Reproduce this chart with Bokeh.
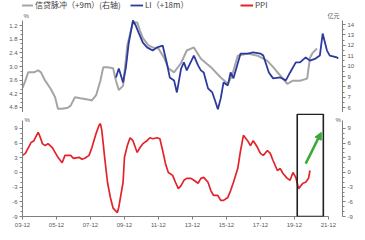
import pandas as pd
from bokeh.plotting import figure
from bokeh.layouts import column
from bokeh.models import (Range1d, LinearAxis, FixedTicker, PrintfTickFormatter,
                          DatetimeTickFormatter, Legend, LegendItem, Label,
                          BoxAnnotation, Arrow, NormalHead)
from bokeh.embed import file_html
from bokeh.resources import INLINE

# ---------------- data ----------------
gray_dates = ["2003-12","2004-02","2004-04","2004-08","2004-11","2005-01","2005-04","2005-08",
              "2005-11","2006-01","2006-04","2006-08","2006-10","2007-01","2007-05","2007-10",
              "2008-01","2008-04","2008-07","2008-09","2008-12","2009-04","2009-06","2009-08",
              "2009-11","2010-02","2010-04","2010-06","2010-09","2010-11","2011-01","2011-05",
              "2011-08","2011-12","2012-04","2012-07","2012-11","2013-04","2013-08","2014-01",
              "2014-06","2015-01","2015-08","2016-01","2016-04","2016-08","2017-03","2017-10",
              "2018-05","2018-09","2019-02","2019-07","2019-11","2020-04","2020-09","2020-11",
              "2021-01","2021-04"]
gray_vals = [7.9, 8.6, 9.4, 9.4, 9.6, 9.4, 8.6, 7.8, 7.0, 5.9, 5.9, 6.0, 6.2, 7.0, 6.9, 6.8,
             6.7, 7.2, 8.6, 9.9, 9.9, 9.8, 8.6, 7.7, 8.1, 12.0, 13.1, 14.2, 14.2, 13.4, 12.7, 12.0,
             11.8, 11.7, 10.8, 9.8, 9.4, 10.3, 11.5, 11.8, 10.7, 9.9, 8.9, 8.3, 9.1, 11.0, 11.2, 11.0,
             10.5, 9.9, 9.1, 8.3, 8.6, 8.6, 8.8, 10.8, 11.3, 11.7]

li_dates = ["2009-06","2009-08","2009-11","2010-01","2010-03","2010-06","2010-08","2010-10",
            "2011-01","2011-04","2011-08","2011-11","2012-03","2012-06","2012-08","2012-11",
            "2013-01","2013-04","2013-06","2013-08","2014-01","2014-04","2014-06","2014-08",
            "2014-11","2015-02","2015-04","2015-06","2015-08","2015-10","2016-01","2016-03",
            "2016-05","2016-10","2017-03","2017-07","2017-12","2018-02","2018-06","2018-09",
            "2019-02","2019-06","2019-09","2020-01","2020-04","2020-08","2020-11","2021-03",
            "2021-06","2021-08","2021-11","2022-01","2022-06","2022-07"]
li_vals = [3.48, 3.09, 3.70, 3.04, 1.99, 0.98, 1.20, 1.51, 1.95, 2.16, 2.30, 2.16, 2.08, 2.87,
           3.48, 3.61, 4.14, 3.09, 2.82, 3.17, 2.52, 2.95, 3.17, 3.26, 3.96, 4.14, 4.49, 4.88,
           4.40, 3.70, 3.83, 3.26, 3.52, 2.43, 2.43, 2.38, 2.43, 2.52, 3.26, 3.52, 3.48, 3.61,
           3.26, 2.82, 2.82, 2.60, 2.74, 2.65, 2.52, 1.55, 2.30, 2.52, 2.60, 2.65]

ppi_dates = ["2003-12","2004-02","2004-06","2004-08","2004-11","2004-12","2005-02","2005-04",
             "2005-06","2005-09","2005-11","2006-01","2006-04","2006-06","2006-10","2006-12",
             "2007-04","2007-06","2007-08","2007-11","2008-01","2008-04","2008-06","2008-07",
             "2008-08","2008-10","2008-12","2009-02","2009-04","2009-07","2009-08","2009-11",
             "2009-12","2010-02","2010-04","2010-06","2010-08","2010-09","2010-11","2011-01",
             "2011-04","2011-06","2011-08","2011-11","2012-01","2012-03","2012-05","2012-07",
             "2012-10","2012-12","2013-02","2013-04","2013-06","2013-08","2013-11","2014-01",
             "2014-04","2014-06","2014-08","2014-11","2015-01","2015-03","2015-06","2015-08",
             "2015-10","2016-01","2016-03","2016-05","2016-08","2016-10","2016-12","2017-03",
             "2017-05","2017-07","2017-10","2017-12","2018-02","2018-05","2018-07","2018-09",
             "2018-12","2019-02","2019-04","2019-07","2019-09","2019-11","2020-01","2020-03",
             "2020-06","2020-08","2020-10","2020-11"]
ppi_vals = [3.5, 3.9, 6.1, 6.5, 8.2, 7.6, 5.9, 5.5, 5.9, 5.1, 4.1, 3.1, 2.0, 3.5, 3.5, 2.9,
            3.1, 2.7, 2.9, 3.5, 5.1, 8.0, 9.6, 10.0, 8.6, 3.1, -2.0, -5.1, -7.3, -8.2, -7.1, -2.0,
            3.1, 5.5, 7.1, 6.5, 4.9, 4.1, 5.1, 5.9, 6.5, 7.1, 6.9, 7.1, 6.9, 4.5, 1.8, 0.0,
            -0.6, -2.0, -3.3, -2.7, -1.6, -1.2, -1.2, -1.6, -2.2, -1.2, -1.0, -2.0, -3.7, -4.7,
            -4.7, -5.7, -5.7, -5.1, -3.7, -2.0, 0.8, 4.5, 7.6, 6.5, 5.5, 6.5, 5.1, 3.9, 3.5, 4.5,
            3.9, 2.4, 0.4, 0.8, -0.2, -1.2, -1.6, 0.0, -1.0, -3.3, -2.2, -2.0, -1.2, 0.4]

x_ticks = ["2003-12", "2005-12", "2007-12", "2009-12", "2011-12", "2013-12", "2015-12",
           "2017-12", "2019-12", "2021-12"]
li_ticks = [1.2, 1.8, 2.4, 3.0, 3.6, 4.2, 4.8]
credit_ticks = [6, 7, 8, 9, 10, 11, 12, 13, 14]
ppi_ticks = [-9, -6, -3, 0, 3, 6, 9]

highlight_start, highlight_end = "2020-02", "2021-08-15"
highlight_top = 11.9
arrow_from = ("2020-08", 1.8)
arrow_to = ("2021-07", 8.2)

legend_labels = ["信贷脉冲（+9m）(右轴)", "LI（+18m）", "PPI"]

GRAY = "#a5a5a5"
BLUE = "#2c3a9e"
RED = "#e3232a"
GREEN = "#3aa935"
AXIS = "#7f7f7f"
TXT = "#595959"


def ts(s):
    return pd.Timestamp(s)


def ms(s):
    return pd.Timestamp(s).value / 1e6


x_start = ts("2003-12-01")
x_end = x_start + pd.DateOffset(months=226)
xr = Range1d(x_start, x_end)


def style_axis(ax, size="6px"):
    ax.axis_line_color = AXIS
    ax.major_tick_line_color = AXIS
    ax.minor_tick_line_color = AXIS
    ax.major_tick_in = 0
    ax.major_tick_out = 3
    ax.minor_tick_in = 0
    ax.minor_tick_out = 2
    ax.major_label_text_font_size = size
    ax.major_label_text_color = TXT
    ax.major_label_text_font = "Liberation Sans"
    ax.major_label_standoff = 2


def minor(ticks, step):
    lo, hi = min(ticks), max(ticks)
    out = []
    v = lo
    while v <= hi + 1e-9:
        if all(abs(v - t) > 1e-6 for t in ticks):
            out.append(round(v, 3))
        v += step
    return out


# ---------------- top panel ----------------
top = figure(width=365, height=112, x_axis_type="datetime", x_range=xr,
             y_range=Range1d(5.02, 0.10), output_backend="svg", toolbar_location=None,
             x_axis_location=None, min_border_left=22, min_border_right=23,
             min_border_top=0, min_border_bottom=0)
top.extra_y_ranges = {"right": Range1d(5.54, 16.31)}
top.grid.visible = False
top.outline_line_color = None

g = top.line([ts(d) for d in gray_dates], gray_vals, color=GRAY, line_width=2,
             y_range_name="right")
b = top.line([ts(d) for d in li_dates], li_vals, color=BLUE, line_width=1.8)
r_dummy = top.line([x_start], [float("nan")], color=RED, line_width=2)

la = top.yaxis[0]
la.ticker = FixedTicker(ticks=li_ticks, minor_ticks=minor(li_ticks, 0.2))
la.formatter = PrintfTickFormatter(format="%.1f")
style_axis(la)
la.bounds = (0.98, 5.02)

ra = LinearAxis(y_range_name="right")
ra.ticker = FixedTicker(ticks=credit_ticks, minor_ticks=minor(credit_ticks, 0.5))
ra.formatter = PrintfTickFormatter(format="%d")
style_axis(ra)
ra.bounds = (5.54, 14.38)
top.add_layout(ra, "right")

legend = Legend(items=[LegendItem(label=legend_labels[0], renderers=[g]),
                       LegendItem(label=legend_labels[1], renderers=[b]),
                       LegendItem(label=legend_labels[2], renderers=[r_dummy])],
                orientation="horizontal", location=(-2, 102), label_width=95,
                spacing=0, glyph_width=13, glyph_height=8, label_height=8, padding=0,
                margin=0, label_standoff=2, label_text_font_size="8px",
                label_text_font="Noto Sans CJK SC", label_text_color="#404040",
                border_line_color=None, background_fill_alpha=0)
top.add_layout(legend)

top.add_layout(Label(x=1, y=97, x_units="screen", y_units="screen", text="%",
                     text_font_size="6px", text_color=TXT, text_baseline="middle"))
top.add_layout(Label(x=305, y=97, x_units="screen", y_units="screen", text="亿元",
                     text_font_size="6px", text_color=TXT, text_baseline="middle",
                     text_font="Noto Sans CJK SC"))

# ---------------- bottom panel ----------------
bot = figure(width=365, height=128, x_axis_type="datetime", x_range=xr,
             y_range=Range1d(-9, 12.06), output_backend="svg", toolbar_location=None,
             min_border_left=22, min_border_right=23, min_border_top=1,
             min_border_bottom=24)
bot.grid.visible = False
bot.outline_line_color = None

bot.line([ts(d) for d in ppi_dates], ppi_vals, color=RED, line_width=1.7)

xa = bot.xaxis[0]
xa.ticker = FixedTicker(ticks=[ms(t) for t in x_ticks], minor_ticks=[])
xa.formatter = DatetimeTickFormatter(days="%y-%m", months="%y-%m", years="%y-%m")
style_axis(xa)
xa.bounds = (ms(x_ticks[0]), ms(x_ticks[-1]))
xa.major_label_standoff = 3

bl = bot.yaxis[0]
bl.ticker = FixedTicker(ticks=ppi_ticks, minor_ticks=minor(ppi_ticks, 1))
bl.formatter = PrintfTickFormatter(format="%d")
style_axis(bl)
bl.bounds = (-9, 10.6)

br = LinearAxis()
br.ticker = FixedTicker(ticks=ppi_ticks, minor_ticks=minor(ppi_ticks, 1))
br.formatter = PrintfTickFormatter(format="%d")
style_axis(br)
br.bounds = (-9, 10.6)
bot.add_layout(br, "right")

bot.add_layout(BoxAnnotation(left=ms(highlight_start), right=ms(highlight_end), bottom=-9,
                             top=highlight_top, fill_alpha=0, line_color="#1f1f1f",
                             line_alpha=1.0, line_width=1.6))
bot.add_layout(Arrow(end=NormalHead(size=7, fill_color=GREEN, line_color=GREEN),
                     x_start=ms(arrow_from[0]), y_start=arrow_from[1],
                     x_end=ms(arrow_to[0]), y_end=arrow_to[1],
                     line_color=GREEN, line_width=2.5))

bot.add_layout(Label(x=2, y=97, x_units="screen", y_units="screen", text="%",
                     text_font_size="6px", text_color=TXT, text_baseline="middle"))
bot.add_layout(Label(x=313, y=97, x_units="screen", y_units="screen", text="%",
                     text_font_size="6px", text_color=TXT, text_baseline="middle"))

layout = column(top, bot, spacing=0)
open("out.html", "w").write(file_html(layout, INLINE))
